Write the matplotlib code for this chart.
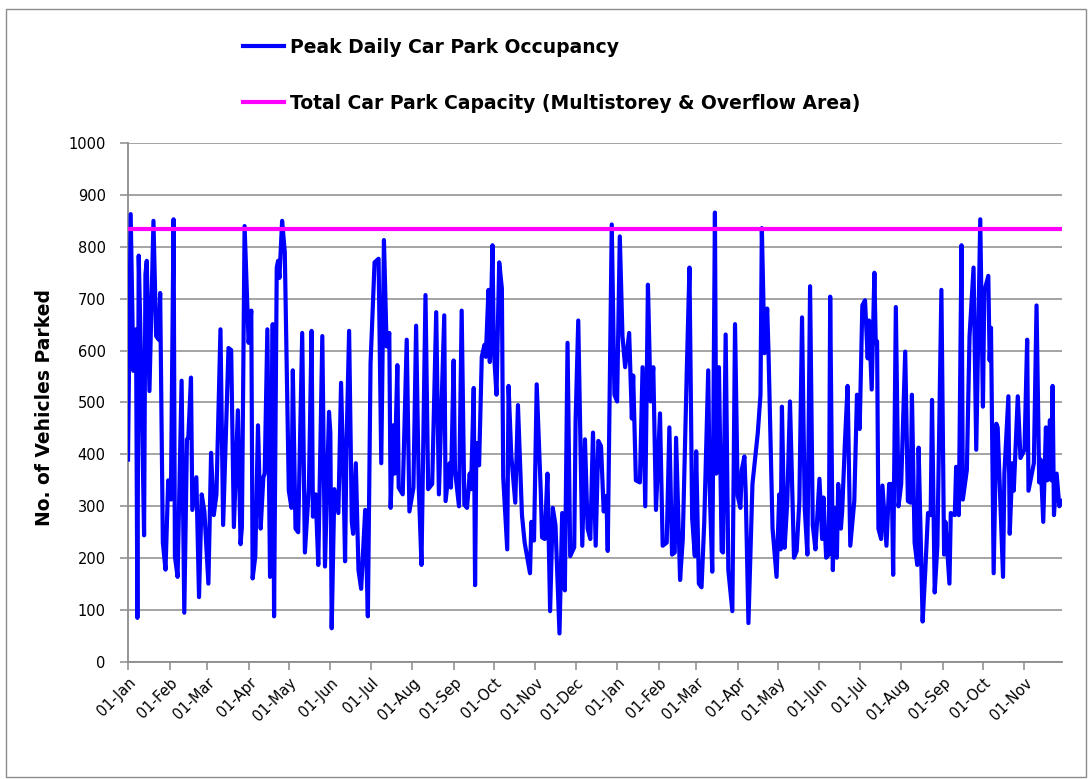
import matplotlib
matplotlib.use("Agg")
import matplotlib.pyplot as plt
import matplotlib.dates as mdates
from matplotlib.patches import Rectangle
import pandas as pd

START = pd.Timestamp("2010-01-01")

# days since 01-Jan of the first year, and peak vehicles parked on that day
days_a = [0, 2, 4, 6, 7, 8, 10, 12, 13, 14, 16, 19, 21, 23, 24, 26, 28, 30, 32, 34,
          35, 37, 40, 42, 44, 45, 47, 48, 51, 53, 55, 57, 60, 62, 64, 66, 69, 71, 75, 77,
          79, 82, 84, 85, 87, 90, 92, 93, 95, 97, 99, 101, 102, 104, 106, 108, 109, 111, 112, 113,
          115, 117, 120, 122, 123, 125, 127, 130, 132, 135, 137, 138, 140, 142, 145, 147, 150, 151, 152, 154,
          157, 159, 161, 162, 163, 165, 167, 168, 170, 172, 174, 177, 179]
occ_a = [390, 863, 561, 641, 85, 783, 548, 244, 747, 773, 522, 850, 628, 621, 711, 230, 178, 350, 313, 853,
         204, 164, 542, 95, 429, 432, 548, 293, 356, 125, 323, 290, 151, 403, 283, 323, 641, 264, 605, 601,
         260, 485, 227, 260, 840, 615, 677, 161, 204, 456, 257, 356, 363, 641, 164, 651, 88, 760, 773, 740,
         850, 790, 330, 297, 562, 257, 250, 634, 211, 336, 638, 280, 323, 187, 628, 184, 482, 442, 65, 333,
         287, 538, 330, 194, 409, 638, 270, 247, 383, 177, 141, 293, 88]

days_b = [181, 184, 187, 189, 191, 193, 195, 196, 198, 199, 201, 202, 205, 208, 210, 213, 215, 217, 219, 222,
          224, 227, 230, 232, 236, 237, 240, 241, 243, 244, 247, 249, 251, 253, 255, 256, 258, 259, 260, 262,
          264, 266, 267, 269, 270, 272, 273, 275, 277, 279, 280, 283, 284, 286, 289, 291, 294, 296, 300, 301,
          303, 305, 308, 309, 311, 313, 315, 317, 319, 322, 324, 326, 328, 330, 333, 334, 336, 339, 341, 343,
          345, 347, 349, 351, 353, 355, 357, 358, 361, 363]
occ_b = [575, 770, 777, 383, 813, 608, 634, 297, 456, 363, 572, 336, 323, 621, 290, 336, 648, 336, 187, 707,
         333, 343, 674, 323, 668, 310, 383, 336, 581, 370, 300, 677, 303, 297, 363, 333, 528, 148, 422, 379,
         588, 611, 588, 717, 578, 803, 601, 515, 770, 720, 356, 217, 532, 399, 307, 495, 283, 230, 171, 270,
         234, 535, 330, 240, 237, 363, 98, 297, 264, 55, 287, 138, 615, 204, 221, 462, 658, 224, 429, 257,
         237, 442, 224, 426, 416, 290, 320, 214, 843, 515]

days_c = [365, 367, 369, 371, 374, 376, 377, 379, 382, 384, 386, 388, 390, 392, 394, 397, 399, 402, 404, 406,
          408, 409, 412, 414, 417, 419, 421, 423, 424, 426, 428, 430, 433, 434, 436, 438, 439, 441, 443, 444,
          446, 448, 451, 453, 455, 457, 458, 460, 461, 463, 466, 470, 472, 473, 475, 477, 478, 481, 484, 486,
          487, 488, 490, 492, 494, 497, 499, 501, 503, 505, 507, 509, 511, 513, 516, 518, 519, 521, 523, 524,
          526, 527, 529, 530, 532, 533, 535, 537, 539, 542, 544]
occ_c = [502, 820, 628, 568, 634, 469, 552, 350, 346, 568, 300, 727, 502, 568, 293, 479, 224, 230, 452, 207,
         211, 432, 158, 237, 562, 760, 277, 204, 406, 151, 144, 267, 562, 343, 174, 866, 363, 568, 214, 211,
         631, 177, 98, 651, 320, 297, 370, 396, 323, 75, 343, 442, 515, 836, 595, 681, 595, 257, 164, 323,
         217, 492, 220, 310, 502, 201, 214, 310, 664, 297, 207, 724, 264, 217, 353, 237, 317, 201, 207, 704,
         177, 297, 201, 343, 257, 293, 423, 532, 224, 310, 515]

days_d = [546, 548, 550, 552, 553, 555, 557, 558, 559, 560, 562, 563, 566, 568, 570, 571, 573, 575, 577, 580,
          582, 584, 585, 587, 589, 590, 593, 595, 597, 599, 600, 602, 604, 607, 609, 610, 613, 614, 617, 618,
          620, 622, 623, 626, 628, 631, 633, 636, 638, 639, 642, 643, 644, 646, 648, 649, 653, 654, 657, 658,
          660, 661, 664, 666, 669, 671, 672, 676, 678, 680, 681, 683, 685, 686, 688, 689, 690, 691, 693, 695,
          697]
occ_d = [449, 687, 697, 585, 658, 525, 750, 614, 618, 257, 237, 340, 224, 343, 343, 168, 684, 300, 343, 598,
         310, 307, 515, 230, 187, 413, 78, 177, 287, 283, 505, 134, 224, 717, 207, 270, 151, 287, 283, 376,
         283, 803, 313, 370, 628, 760, 409, 853, 492, 714, 744, 581, 644, 171, 459, 452, 164, 363, 512, 247,
         383, 330, 512, 393, 409, 621, 330, 383, 687, 346, 390, 270, 452, 350, 466, 350, 532, 283, 363, 300,
         310]

capacity = 835

days = days_a + days_b + days_c + days_d
occupancy = occ_a + occ_b + occ_c + occ_d
dates = START + pd.to_timedelta(days, unit="D")

GRID = "#8c8c8c"

fig = plt.figure(figsize=(10.9, 7.79), dpi=100)
ax = fig.add_axes([128 / 1090, 1 - 662 / 779, (1062 - 128) / 1090, (662 - 143) / 779])

ax.plot(dates, occupancy, color="#0000ff", lw=3.0, solid_joinstyle="round",
        label="Peak Daily Car Park Occupancy", zorder=3)
ax.plot([dates[0], dates[-1]], [capacity, capacity], color="#ff00ff", lw=3.0,
        label="Total Car Park Capacity (Multistorey & Overflow Area)", zorder=4)

ax.set_xlim(dates[0], dates[-1])
ax.set_ylim(0, 1000)
ax.set_yticks(range(0, 1001, 100))
ax.yaxis.grid(True, color=GRID, lw=1.1)
ax.set_axisbelow(True)
ax.xaxis.set_major_locator(mdates.MonthLocator(bymonthday=1))
ax.xaxis.set_major_formatter(mdates.DateFormatter("%d-%b"))

for side in ("top", "right"):
    ax.spines[side].set_visible(False)
for side in ("left", "bottom"):
    ax.spines[side].set_color(GRID)
    ax.spines[side].set_linewidth(1.3)
ax.tick_params(axis="both", colors=GRID, length=6, width=1.1, labelsize=10.5,
               labelcolor="black")
ax.tick_params(axis="y", pad=10)
for lbl in ax.get_xticklabels():
    lbl.set_rotation(45)
    lbl.set_ha("right")
    lbl.set_rotation_mode("anchor")

fig.text(45 / 1090, 1 - 408 / 779, "No. of Vehicles Parked", rotation=90,
         ha="center", va="center", fontsize=13.5, fontweight="bold")

leg = fig.legend(loc="upper left", bbox_to_anchor=(243 / 1090, 1 - 38 / 779),
                 frameon=False, borderpad=0, borderaxespad=0, handlelength=2.2,
                 handletextpad=0.3, labelspacing=1.95,
                 prop={"size": 13.5, "weight": "bold"})

fig.patches.append(Rectangle((6 / 1090, 2 / 779), 1080 / 1090, 768 / 779,
                             transform=fig.transFigure, fill=False,
                             edgecolor=GRID, lw=1.0))

fig.savefig("out.png", dpi=100)
